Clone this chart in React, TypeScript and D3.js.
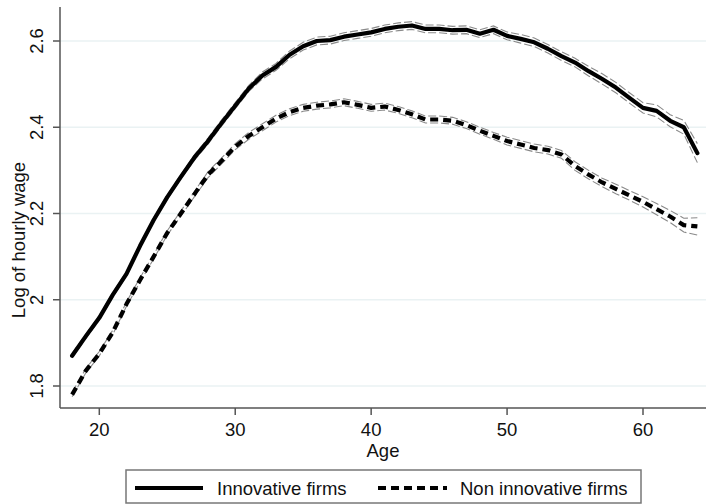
import * as d3 from "d3";
import React from "react";

// Age profile of log hourly wage
const ages = d3.range(18, 65);
const innovative = [
  1.870, 1.915, 1.958, 2.012, 2.060, 2.125, 2.185, 2.238, 2.285, 2.330,
  2.368, 2.410, 2.450, 2.490, 2.520, 2.540, 2.568, 2.588, 2.600, 2.602,
  2.610, 2.615, 2.620, 2.628, 2.633, 2.636, 2.628, 2.628, 2.625, 2.626,
  2.617, 2.626, 2.612, 2.605, 2.597, 2.582, 2.565, 2.550, 2.530, 2.512,
  2.492, 2.468, 2.445, 2.438, 2.415, 2.400, 2.340
];
const nonInnovative = [
  1.780, 1.835, 1.875, 1.925, 1.990, 2.046, 2.100, 2.155, 2.200, 2.245,
  2.290, 2.322, 2.355, 2.380, 2.400, 2.420, 2.435, 2.445, 2.450, 2.453,
  2.458, 2.452, 2.445, 2.448, 2.440, 2.430, 2.418, 2.418, 2.415, 2.405,
  2.392, 2.380, 2.368, 2.360, 2.352, 2.347, 2.337, 2.310, 2.290, 2.272,
  2.257, 2.242, 2.227, 2.210, 2.193, 2.173, 2.170
];
// half width of the 95% band
const innovativeCI = [
  0.005, 0.005, 0.005, 0.005, 0.005, 0.005, 0.005, 0.005, 0.005, 0.006,
  0.007, 0.007, 0.007, 0.007, 0.008, 0.008, 0.009, 0.009, 0.009, 0.009,
  0.009, 0.009, 0.009, 0.009, 0.009, 0.009, 0.009, 0.009, 0.009, 0.009,
  0.009, 0.009, 0.009, 0.010, 0.010, 0.010, 0.010, 0.010, 0.011, 0.012,
  0.012, 0.012, 0.012, 0.014, 0.014, 0.016, 0.022
];
const nonInnovativeCI = [
  0.005, 0.005, 0.005, 0.005, 0.005, 0.005, 0.005, 0.005, 0.006, 0.006,
  0.007, 0.007, 0.007, 0.008, 0.008, 0.008, 0.008, 0.008, 0.008, 0.008,
  0.008, 0.008, 0.008, 0.008, 0.008, 0.008, 0.008, 0.008, 0.008, 0.008,
  0.008, 0.008, 0.009, 0.009, 0.009, 0.009, 0.009, 0.010, 0.010, 0.010,
  0.011, 0.011, 0.012, 0.013, 0.014, 0.016, 0.020
];
const xTicks = [20, 30, 40, 50, 60];
const yTicks = [1.8, 2, 2.2, 2.4, 2.6];

const W = 706, H = 504;
const FONT = "'Liberation Sans', Arial, sans-serif";
const FS = 18.5;

export default function App() {
  const x = d3.scaleLinear().domain([20, 60]).range([99.3, 643]);
  const y = d3.scaleLinear().domain([1.8, 2.6]).range([386, 41]);
  const left = 60, right = 706, top = 7, bottom = 408;

  const line = d3.line<number>()
    .x((d, i) => x(ages[i]))
    .y(d => y(d));

  const band = (vals: number[], ci: number[], s: number) =>
    line(vals.map((v, i) => v + s * ci[i])) || "";

  const ciStyle = { fill: "none", stroke: "#8a8a8a", strokeWidth: 1.1, strokeDasharray: "8,3" };

  return (
    <svg width={W} height={H} style={{ position: "absolute", left: 0, top: 0, background: "#fff" }}
      fontFamily={FONT}>
      {/* gridlines */}
      {yTicks.map(t => (
        <line key={t} x1={left} x2={right} y1={y(t)} y2={y(t)} stroke="#eaf2f3" strokeWidth={1.5} />
      ))}

      {/* confidence bands */}
      <path d={band(innovative, innovativeCI, 1)} {...ciStyle} />
      <path d={band(innovative, innovativeCI, -1)} {...ciStyle} />
      <path d={band(nonInnovative, nonInnovativeCI, 1)} {...ciStyle} />
      <path d={band(nonInnovative, nonInnovativeCI, -1)} {...ciStyle} />

      {/* main lines */}
      <path d={line(innovative) || ""} fill="none" stroke="#000" strokeWidth={4.2}
        strokeLinejoin="round" strokeLinecap="round" />
      <path d={line(nonInnovative) || ""} fill="none" stroke="#000" strokeWidth={4.2}
        strokeDasharray="8,5" strokeLinejoin="round" />

      {/* axes */}
      <line x1={left} x2={left} y1={top} y2={bottom} stroke="#555" strokeWidth={1.5} />
      <line x1={left} x2={right} y1={bottom} y2={bottom} stroke="#555" strokeWidth={1.5} />
      {yTicks.map(t => (
        <g key={t}>
          <line x1={left - 7} x2={left} y1={y(t)} y2={y(t)} stroke="#555" strokeWidth={1.5} />
          <text transform={`translate(43,${y(t)}) rotate(-90)`} textAnchor="middle" fontSize={FS} fill="#111">
            {d3.format("~g")(t)}
          </text>
        </g>
      ))}
      {xTicks.map(t => (
        <g key={t}>
          <line x1={x(t)} x2={x(t)} y1={bottom} y2={bottom + 7} stroke="#555" strokeWidth={1.5} />
          <text x={x(t)} y={436} textAnchor="middle" fontSize={FS} fill="#111">{t}</text>
        </g>
      ))}
      <text transform="translate(25,240) rotate(-90)" textAnchor="middle" fontSize={FS} fill="#111">
        Log of hourly wage
      </text>
      <text x={383} y={457} textAnchor="middle" fontSize={FS} fill="#111">Age</text>

      {/* legend */}
      <rect x={126} y={470} width={515} height={33} fill="#fff" stroke="#777" strokeWidth={1.5} />
      <line x1={135} x2={203} y1={488} y2={488} stroke="#000" strokeWidth={4.2} />
      <text x={217} y={494.5} fontSize={FS} fill="#111">Innovative firms</text>
      <line x1={378} x2={447} y1={488} y2={488} stroke="#000" strokeWidth={4.2} strokeDasharray="8,5" />
      <text x={460} y={494.5} fontSize={FS} fill="#111">Non innovative firms</text>
    </svg>
  );
}
